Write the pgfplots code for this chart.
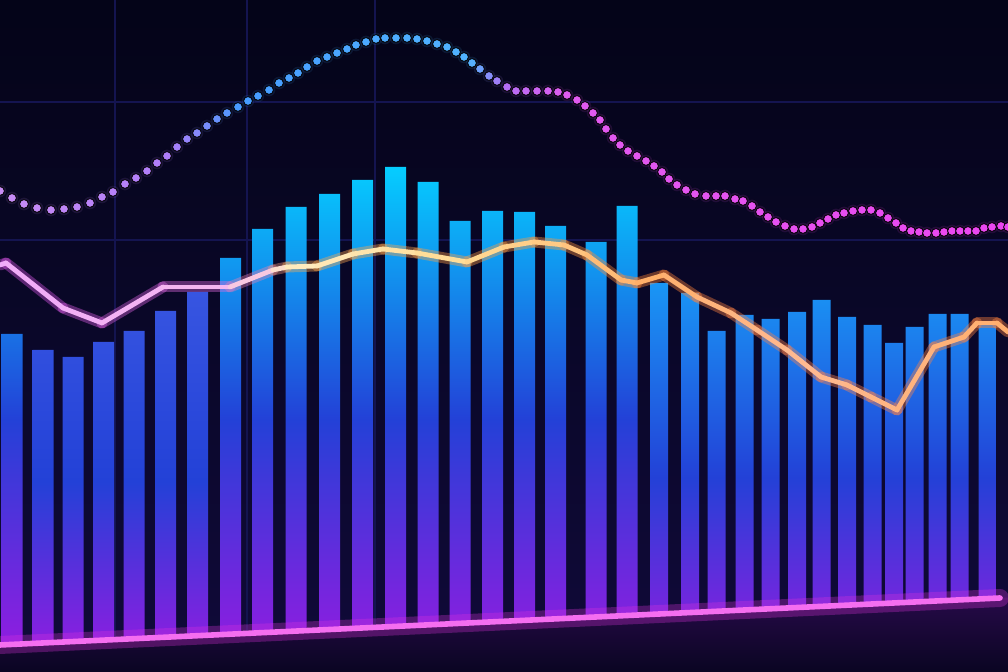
\documentclass[border=0pt]{standalone}
\usepackage{pgfplots}
\usepackage{pgfplotstable}
\pgfplotsset{compat=1.18}

\definecolor{bgtop}{RGB}{4,4,24}
\definecolor{bgbot}{RGB}{16,10,58}
\definecolor{floortop}{RGB}{38,10,72}
\definecolor{floorbot}{RGB}{10,5,34}
\definecolor{gridcol}{RGB}{20,20,80}
\definecolor{barcyan}{RGB}{5,205,255}
\definecolor{barblue}{RGB}{25,150,245}
\definecolor{barindigo}{RGB}{55,85,225}
\definecolor{barmid}{RGB}{35,65,215}
\definecolor{barpurple}{RGB}{155,25,225}
\definecolor{basepink}{RGB}{245,110,240}
\definecolor{baseglow}{RGB}{220,50,220}

\pgfplotsset{
  colormap={dotmap}{rgb255(0pt)=(200,140,245) rgb255(170pt)=(175,125,250)
    rgb255(240pt)=(70,155,255) rgb255(470pt)=(80,180,255) rgb255(505pt)=(180,110,245)
    rgb255(570pt)=(225,90,240) rgb255(1008pt)=(235,70,240)},
  colormap={glowmap}{rgb255(0pt)=(215,80,230) rgb255(230pt)=(225,110,225)
    rgb255(300pt)=(255,170,80) rgb255(560pt)=(255,150,60)
    rgb255(650pt)=(255,130,50) rgb255(800pt)=(255,130,80) rgb255(1008pt)=(255,130,60)},
  colormap={coremap}{rgb255(0pt)=(240,170,250) rgb255(230pt)=(245,185,240)
    rgb255(300pt)=(255,235,190) rgb255(450pt)=(255,220,150) rgb255(560pt)=(255,200,130)
    rgb255(650pt)=(255,175,105) rgb255(800pt)=(255,185,145) rgb255(1008pt)=(255,175,110)},
}

% dots of the upper curve, x and height in pixel units
\pgfplotstableread{
x y
0 481
12 474
24 468
37 464
51 462
64 463
77 465
90 469
102 475
113 480
125 488
136 494
147 501
157 509
167 516
177 525
187 533
197 539
207 546
217 553
227 559
238 565
248 571
258 576
269 582
279 589
289 594
298 599
307 605
317 611
327 615
337 619
347 623
356 627
366 630
376 633
385 634
396 634
407 634
417 633
427 631
437 628
447 625
456 620
464 615
472 609
480 603
489 596
497 591
507 585
516 581
526 581
537 581
548 581
558 580
567 577
577 572
585 566
593 559
600 552
606 543
613 534
620 527
628 521
637 516
646 511
654 506
662 500
669 493
677 487
686 482
695 478
706 476
716 476
725 476
735 473
743 471
752 466
760 460
768 455
776 450
785 446
794 443
803 443
812 445
820 449
828 453
836 457
844 459
853 461
862 462
871 462
880 459
888 454
896 449
903 444
911 441
919 440
927 439
936 439
944 440
952 441
960 441
968 441
976 441
984 444
992 445
1001 446
1008 445
}\dots

\pgfplotstableread{
x y
0 407
6 409
63 364
102 349
163 385
230 385
273 402
287 405
317 406
353 418
383 423
417 419
467 410
504 425
534 430
564 427
587 417
621 392
637 389
664 397
697 375
731 359
757 342
787 322
821 295
847 287
871 275
897 262
934 325
964 335
977 349
997 349
1008 340
}\glowline

\begin{document}
\begin{tikzpicture}
\begin{axis}[
  name=ax,
  width=504pt, height=336pt, scale only axis,
  xmin=0, xmax=1008, ymin=0, ymax=672,
  axis line style={draw=none},
  axis background/.style={shade, top color=bgtop, bottom color=bgbot},
  xtick={115,247,375}, ytick={432,570},
  xticklabels={}, yticklabels={},
  major tick length=0pt,
  grid=major, grid style={gridcol, line width=0.6pt},
  clip=true,
]

% bars, heights in pixel units above the bottom edge
% (middle color last: top/bottom color would reset it)
\addplot[ybar, bar width=21, draw=none, shade,
  top color=barcyan, bottom color=barpurple, middle color=barmid]
  coordinates {
  (12,338) (230.5,414) (262.5,443) (296,465) (329.5,478) (362.5,492)
  (395.5,505) (428,490) (460,451) (492.5,461) (524.5,460) (555.5,446)
  (596,430) (627,466)};
\addplot[ybar, bar width=21, draw=none, shade,
  top color=barindigo, bottom color=barpurple, middle color=barmid]
  coordinates {
  (43,322) (73,315) (103.5,330) (134,341) (165.5,361) (197.5,380)};
\addplot[ybar, bar width=18, draw=none, shade,
  top color=barblue, bottom color=barpurple, middle color=barmid]
  coordinates {
  (659,389) (690,379) (716.5,341) (744.5,357) (770.5,353) (797,360)
  (821.5,372) (847,355) (872.5,347) (894,329) (914.5,345) (937.5,358)
  (959.5,358) (987.5,350)};

% floor below the sloping base line
\addplot[draw=none, shade, top color=floortop, bottom color=floorbot]
  coordinates {(0,27) (1008,74.4)} \closedcycle;
\addplot[baseglow, line width=9pt, opacity=0.3, line cap=round]
  coordinates {(0,27) (1000,74)};
\addplot[basepink, line width=2.8pt, line cap=round]
  coordinates {(0,27) (1000,74)};

% dotted curve
\addplot[scatter, only marks, mark=*, mark size=3.2pt, opacity=0.12,
  colormap name=dotmap, point meta=x, point meta min=0, point meta max=1008,
  scatter/use mapped color={draw=none, fill=mapped color}]
  table {\dots};
\addplot[scatter, only marks, mark=*, mark size=2.2pt,
  colormap name=dotmap, point meta=x, point meta min=0, point meta max=1008,
  scatter/use mapped color={draw=none, fill=mapped color}]
  table {\dots};

% glowing line
\addplot[mesh, colormap name=glowmap, point meta=x, point meta min=0,
  point meta max=1008, line width=5.5pt, opacity=0.4, line join=round,
  line cap=round]
  table {\glowline};
\addplot[mesh, colormap name=coremap, point meta=x, point meta min=0,
  point meta max=1008, line width=2.4pt, line join=round, line cap=round]
  table {\glowline};
\end{axis}
\pgfresetboundingbox
\path (ax.south west) rectangle (ax.north east);
\end{tikzpicture}
\end{document}
